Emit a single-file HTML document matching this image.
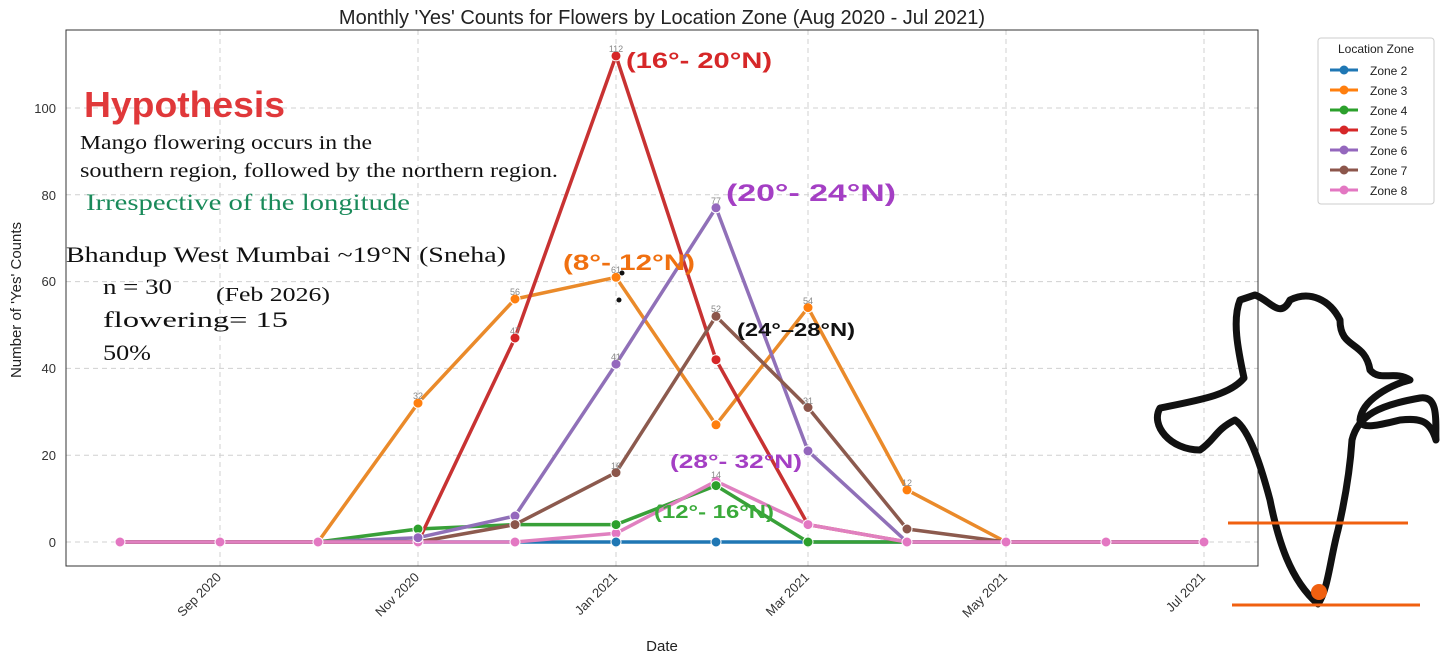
<!DOCTYPE html>
<html><head><meta charset="utf-8"><style>
body{margin:0;background:#fff;width:1441px;height:667px;overflow:hidden}
svg text{font-family:"Liberation Sans",sans-serif}
</style></head><body>
<svg width="1441" height="667" viewBox="0 0 1441 667">
<rect width="1441" height="667" fill="#fff"/>
<text x="662" y="24" font-size="20" text-anchor="middle" fill="#222">Monthly 'Yes' Counts for Flowers by Location Zone (Aug 2020 - Jul 2021)</text>
<g stroke="#d0d0d0" stroke-dasharray="5,4" stroke-width="1">
<line x1="66" x2="1258" y1="542" y2="542"/><line x1="66" x2="1258" y1="455.2" y2="455.2"/><line x1="66" x2="1258" y1="368.4" y2="368.4"/><line x1="66" x2="1258" y1="281.6" y2="281.6"/><line x1="66" x2="1258" y1="194.8" y2="194.8"/><line x1="66" x2="1258" y1="108" y2="108"/>
<line x1="220" x2="220" y1="30" y2="566"/><line x1="418" x2="418" y1="30" y2="566"/><line x1="616" x2="616" y1="30" y2="566"/><line x1="808" x2="808" y1="30" y2="566"/><line x1="1006" x2="1006" y1="30" y2="566"/><line x1="1204" x2="1204" y1="30" y2="566"/>
</g>
<rect x="66" y="30" width="1192" height="536" fill="none" stroke="#333" stroke-width="1"/>
<g font-size="13" fill="#333" text-anchor="end">
<text x="56" y="547">0</text><text x="56" y="460">20</text><text x="56" y="373">40</text><text x="56" y="286">60</text><text x="56" y="200">80</text><text x="56" y="113">100</text></g>
<g font-size="13" fill="#333" text-anchor="end">
<text transform="translate(222,578) rotate(-45)">Sep 2020</text>
<text transform="translate(420,578) rotate(-45)">Nov 2020</text>
<text transform="translate(618,578) rotate(-45)">Jan 2021</text>
<text transform="translate(810,578) rotate(-45)">Mar 2021</text>
<text transform="translate(1008,578) rotate(-45)">May 2021</text>
<text transform="translate(1206,578) rotate(-45)">Jul 2021</text></g>
<text x="662" y="651" font-size="15" text-anchor="middle" fill="#222">Date</text>
<text transform="translate(21,300) rotate(-90)" font-size="15" text-anchor="middle" fill="#222">Number of 'Yes' Counts</text>
<g fill="none" stroke-width="3.5" stroke-linejoin="round">
<polyline stroke="#1f77b4" points="120,542 220,542 318,542 418,542 515,542 616,542 716,542 808,542 907,542 1006,542 1106,542 1204,542"/>
<polyline stroke="#ea8a2a" points="120,542 220,542 318,542 418,403.1 515,299 616,277.3 716,424.8 808,307.6 907,489.9 1006,542 1106,542 1204,542"/>
<polyline stroke="#38a038" points="120,542 220,542 318,542 418,529 515,524.6 616,524.6 716,485.6 808,542 907,542 1006,542 1106,542 1204,542"/>
<polyline stroke="#c83232" points="120,542 220,542 318,542 418,542 515,338 616,55.9 716,359.7 808,524.6 907,542 1006,542 1106,542 1204,542"/>
<polyline stroke="#9070b8" points="120,542 220,542 318,542 418,537.7 515,516 616,364.1 716,207.8 808,450.9 907,542 1006,542 1106,542 1204,542"/>
<polyline stroke="#8c5a4e" points="120,542 220,542 318,542 418,542 515,524.6 616,472.6 716,316.3 808,407.5 907,529 1006,542 1106,542 1204,542"/>
<polyline stroke="#e080c0" points="120,542 220,542 318,542 418,542 515,542 616,533.3 716,481.2 808,524.6 907,542 1006,542 1106,542 1204,542"/>
</g>
<g stroke="#fff" stroke-width="1">
<g fill="#e377c2"><circle cx="120" cy="542" r="5"/><circle cx="220" cy="542" r="5"/><circle cx="318" cy="542" r="5"/><circle cx="418" cy="542" r="5"/><circle cx="515" cy="542" r="5"/><circle cx="907" cy="542" r="5"/><circle cx="1006" cy="542" r="5"/><circle cx="1106" cy="542" r="5"/><circle cx="1204" cy="542" r="5"/><circle cx="616" cy="533.3" r="5"/><circle cx="716" cy="481.2" r="5"/><circle cx="808" cy="524.6" r="5"/></g>
<g fill="#1f77b4"><circle cx="616" cy="542" r="5"/><circle cx="716" cy="542" r="5"/></g>
<g fill="#ff7f0e"><circle cx="418" cy="403.1" r="5"/><circle cx="515" cy="299" r="5"/><circle cx="616" cy="277.3" r="5"/><circle cx="716" cy="424.8" r="5"/><circle cx="808" cy="307.6" r="5"/><circle cx="907" cy="489.9" r="5"/></g>
<g fill="#2ca02c"><circle cx="418" cy="529" r="5"/><circle cx="515" cy="524.6" r="5"/><circle cx="616" cy="524.6" r="5"/><circle cx="716" cy="485.6" r="5"/><circle cx="808" cy="542" r="5"/></g>
<g fill="#d62728"><circle cx="515" cy="338" r="5"/><circle cx="616" cy="55.9" r="5"/><circle cx="716" cy="359.7" r="5"/></g>
<g fill="#9467bd"><circle cx="418" cy="537.7" r="5"/><circle cx="515" cy="516" r="5"/><circle cx="616" cy="364.1" r="5"/><circle cx="716" cy="207.8" r="5"/><circle cx="808" cy="450.9" r="5"/></g>
<g fill="#8c564b"><circle cx="515" cy="524.6" r="5"/><circle cx="616" cy="472.6" r="5"/><circle cx="716" cy="316.3" r="5"/><circle cx="808" cy="407.5" r="5"/><circle cx="907" cy="529" r="5"/></g>
</g>
<g font-size="9" text-anchor="middle" fill="#888">
<text x="616" y="52">112</text><text x="716" y="204">77</text><text x="616" y="273">61</text><text x="515" y="295">56</text><text x="808" y="304">54</text><text x="716" y="312">52</text><text x="515" y="334">47</text><text x="616" y="360">41</text><text x="418" y="399">32</text><text x="808" y="404">31</text><text x="616" y="469">16</text><text x="716" y="478">14</text><text x="907" y="486">12</text>
</g>
<rect x="1318" y="38" width="116" height="166" rx="3" fill="#fff" stroke="#ccc"/>
<text x="1376" y="53" font-size="12" text-anchor="middle" fill="#222">Location Zone</text>
<g font-size="12" fill="#222" stroke-width="3">
<line x1="1330" x2="1358" y1="70" y2="70" stroke="#1f77b4"/><circle cx="1344" cy="70" r="4.5" fill="#1f77b4"/><text x="1370" y="75">Zone 2</text>
<line x1="1330" x2="1358" y1="90" y2="90" stroke="#ff7f0e"/><circle cx="1344" cy="90" r="4.5" fill="#ff7f0e"/><text x="1370" y="95">Zone 3</text>
<line x1="1330" x2="1358" y1="110" y2="110" stroke="#2ca02c"/><circle cx="1344" cy="110" r="4.5" fill="#2ca02c"/><text x="1370" y="115">Zone 4</text>
<line x1="1330" x2="1358" y1="130" y2="130" stroke="#d62728"/><circle cx="1344" cy="130" r="4.5" fill="#d62728"/><text x="1370" y="135">Zone 5</text>
<line x1="1330" x2="1358" y1="150" y2="150" stroke="#9467bd"/><circle cx="1344" cy="150" r="4.5" fill="#9467bd"/><text x="1370" y="155">Zone 6</text>
<line x1="1330" x2="1358" y1="170" y2="170" stroke="#8c564b"/><circle cx="1344" cy="170" r="4.5" fill="#8c564b"/><text x="1370" y="175">Zone 7</text>
<line x1="1330" x2="1358" y1="190" y2="190" stroke="#e377c2"/><circle cx="1344" cy="190" r="4.5" fill="#e377c2"/><text x="1370" y="195">Zone 8</text>
</g>
<g font-weight="bold">
<text x="84" y="117" font-size="36" fill="#e0383a" textLength="201" lengthAdjust="spacingAndGlyphs">Hypothesis</text>
<text x="626" y="68" font-size="22" fill="#d62728" textLength="146" lengthAdjust="spacingAndGlyphs">(16°- 20°N)</text>
<text x="726" y="201" font-size="24" fill="#a43fc4" textLength="170" lengthAdjust="spacingAndGlyphs">(20°- 24°N)</text>
<text x="563" y="270" font-size="22" fill="#f07010" textLength="132" lengthAdjust="spacingAndGlyphs">(8°- 12°N)</text>
<text x="737" y="336" font-size="18" fill="#111" textLength="118" lengthAdjust="spacingAndGlyphs">(24°–28°N)</text>
<text x="670" y="468" font-size="19" fill="#a43fc4" textLength="132" lengthAdjust="spacingAndGlyphs">(28°- 32°N)</text>
<text x="654" y="518" font-size="18" fill="#3aaa3a" textLength="120" lengthAdjust="spacingAndGlyphs">(12°- 16°N)</text>
</g>
<g fill="#111">
<text x="80" y="149" font-size="20" style="font-family:'Liberation Serif',serif" textLength="292" lengthAdjust="spacingAndGlyphs">Mango flowering occurs in the</text>
<text x="80" y="177" font-size="20" style="font-family:'Liberation Serif',serif" textLength="478" lengthAdjust="spacingAndGlyphs">southern region, followed by the northern region.</text>
<text x="86" y="210" font-size="23" fill="#1a8a5a" style="font-family:'Liberation Serif',serif" textLength="324" lengthAdjust="spacingAndGlyphs">Irrespective of the longitude</text>
<text x="66" y="262" font-size="22" style="font-family:'Liberation Serif',serif" textLength="440" lengthAdjust="spacingAndGlyphs">Bhandup West Mumbai ~19°N (Sneha)</text>
<text x="103" y="294" font-size="22" style="font-family:'Liberation Serif',serif" textLength="69" lengthAdjust="spacingAndGlyphs">n = 30</text>
<text x="216" y="301" font-size="20" style="font-family:'Liberation Serif',serif" textLength="114" lengthAdjust="spacingAndGlyphs">(Feb 2026)</text>
<text x="103" y="327" font-size="22" style="font-family:'Liberation Serif',serif" textLength="185" lengthAdjust="spacingAndGlyphs">flowering= 15</text>
<text x="103" y="360" font-size="22" style="font-family:'Liberation Serif',serif" textLength="48" lengthAdjust="spacingAndGlyphs">50%</text>
</g>
<circle cx="622" cy="273" r="2.5" fill="#111"/><circle cx="619" cy="300" r="2.5" fill="#111"/>
<path d="M1240,300 C1232,320 1238,350 1244,378 C1230,395 1200,400 1160,408 C1150,425 1170,450 1200,450 C1215,440 1215,430 1235,420 C1250,430 1262,470 1270,500 C1278,540 1290,580 1318,604 C1328,590 1330,560 1338,530 C1345,500 1350,470 1352,440 C1358,415 1380,405 1420,398 C1440,395 1435,425 1436,440 C1430,420 1420,418 1400,420 C1380,425 1360,430 1360,420 C1362,400 1390,385 1410,380 C1395,370 1380,382 1370,370 C1365,340 1340,350 1340,320 C1330,300 1310,290 1290,300 C1280,320 1270,300 1255,295 Z" fill="none" stroke="#111" stroke-width="7" stroke-linejoin="round"/>
<line x1="1228" x2="1408" y1="523" y2="523" stroke="#f06010" stroke-width="3"/>
<line x1="1232" x2="1420" y1="605" y2="605" stroke="#f06010" stroke-width="3"/>
<circle cx="1319" cy="592" r="8" fill="#f06010"/>
</svg>
</body></html>
